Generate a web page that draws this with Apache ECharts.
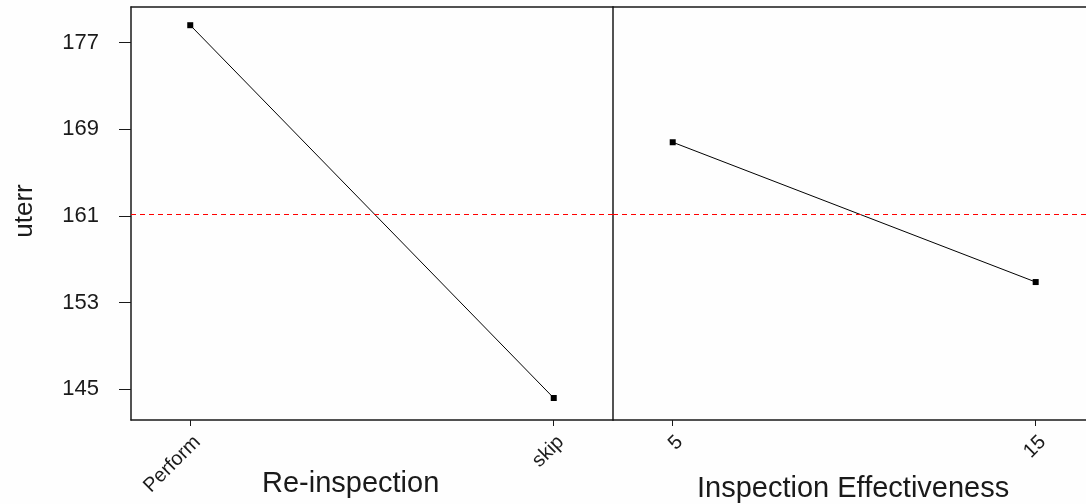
<!DOCTYPE html>
<html>
<head>
<meta charset="utf-8">
<script src="https://cdn.jsdelivr.net/npm/echarts@6/dist/echarts.min.js"></script>
<style>
html,body{margin:0;padding:0;background:#fefefe;}
#chart{width:1086px;height:504px;}
</style>
</head>
<body>
<div id="chart"></div>
<script>
const reinspCategories = ['Perform', 'skip'];
const reinspMeans = [178.6, 144.2];
const effLevels = [5, 15];
const effMeans = [167.8, 154.9];
const yTicks = [145, 153, 161, 169, 177];
const grandMean = 161.13;
const yName = 'uterr';
const xNames = ['Re-inspection', 'Inspection Effectiveness'];

const FONT = '"Liberation Sans", Arial, sans-serif';
const INK = '#1a1a1a';
const RED = '#ff0000';
const yMin = 142.17, yMax = 180.28;

const chart = echarts.init(document.getElementById('chart'));

const yAxisBase = {
  type: 'value', min: yMin, max: yMax,
  splitLine: { show: false },
  axisLine: { show: true, onZero: false, lineStyle: { color: INK, width: 1.5 } }
};

function meanLine() {
  return {
    silent: true, symbol: 'none', label: { show: false },
    emphasis: { disabled: true },
    lineStyle: { color: RED, type: [5, 4], width: 1, opacity: 1 },
    data: [{ yAxis: grandMean, lineStyle: { color: RED } }]
  };
}

chart.setOption({
  animation: false,
  backgroundColor: '#fefefe',
  grid: [
    { left: 131, top: 7, width: 482, height: 413, show: false },
    { left: 613, top: 7, right: 0, height: 413, show: false }
  ],
  xAxis: [
    {
      gridIndex: 0, type: 'value', min: -0.163, max: 1.163,
      splitLine: { show: false },
      axisLine: { onZero: false, lineStyle: { color: INK, width: 1.5 } },
      axisTick: { customValues: [0, 1], length: 6, lineStyle: { color: INK } },
      axisLabel: {
        customValues: [0, 1], rotate: 45, margin: 12, verticalAlign: 'top',
        formatter: v => reinspCategories[Math.round(v)],
        fontFamily: FONT, fontSize: 20, color: INK
      }
    },
    {
      gridIndex: 1, type: 'value', min: 3.355, max: 16.386,
      splitLine: { show: false },
      axisLine: { onZero: false, lineStyle: { color: INK, width: 1.5 } },
      axisTick: { customValues: effLevels, length: 6, lineStyle: { color: INK } },
      axisLabel: {
        customValues: effLevels, rotate: 45, margin: 12, verticalAlign: 'top',
        fontFamily: FONT, fontSize: 20, color: INK
      }
    },
    {
      gridIndex: 0, type: 'value', position: 'top', min: 0, max: 1,
      splitLine: { show: false }, axisTick: { show: false }, axisLabel: { show: false },
      axisLine: { show: true, onZero: false, lineStyle: { color: INK, width: 1.5 } }
    },
    {
      gridIndex: 1, type: 'value', position: 'top', min: 0, max: 1,
      splitLine: { show: false }, axisTick: { show: false }, axisLabel: { show: false },
      axisLine: { show: true, onZero: false, lineStyle: { color: INK, width: 1.5 } }
    }
  ],
  yAxis: [
    Object.assign({}, yAxisBase, {
      gridIndex: 0,
      axisTick: { customValues: yTicks, length: 12, lineStyle: { color: INK } },
      axisLabel: { customValues: yTicks, margin: 32, fontFamily: FONT, fontSize: 22, color: INK, padding: [0, 0, 3, 0] }
    }),
    Object.assign({}, yAxisBase, {
      gridIndex: 1,
      axisTick: { show: false },
      axisLabel: { show: false }
    })
  ],
  graphic: [
    { type: 'text', x: 25, y: 211, rotation: Math.PI / 2,
      style: { text: yName, font: '26px ' + FONT, fill: INK, align: 'center', verticalAlign: 'middle' } },
    { type: 'text', x: 262, y: 484,
      style: { text: xNames[0], font: '29px ' + FONT, fill: INK, align: 'left', verticalAlign: 'middle' } },
    { type: 'text', x: 697, y: 489,
      style: { text: xNames[1], font: '29px ' + FONT, fill: INK, align: 'left', verticalAlign: 'middle' } }
  ],
  series: [
    {
      type: 'line', xAxisIndex: 0, yAxisIndex: 0,
      data: reinspMeans.map((v, i) => [i, v]),
      symbol: 'rect', symbolSize: 6,
      itemStyle: { color: '#000' },
      lineStyle: { color: '#000', width: 1 },
      markLine: meanLine()
    },
    {
      type: 'line', xAxisIndex: 1, yAxisIndex: 1,
      data: effLevels.map((x, i) => [x, effMeans[i]]),
      symbol: 'rect', symbolSize: 6,
      itemStyle: { color: '#000' },
      lineStyle: { color: '#000', width: 1 },
      markLine: meanLine()
    }
  ]
});
</script>
</body>
</html>
